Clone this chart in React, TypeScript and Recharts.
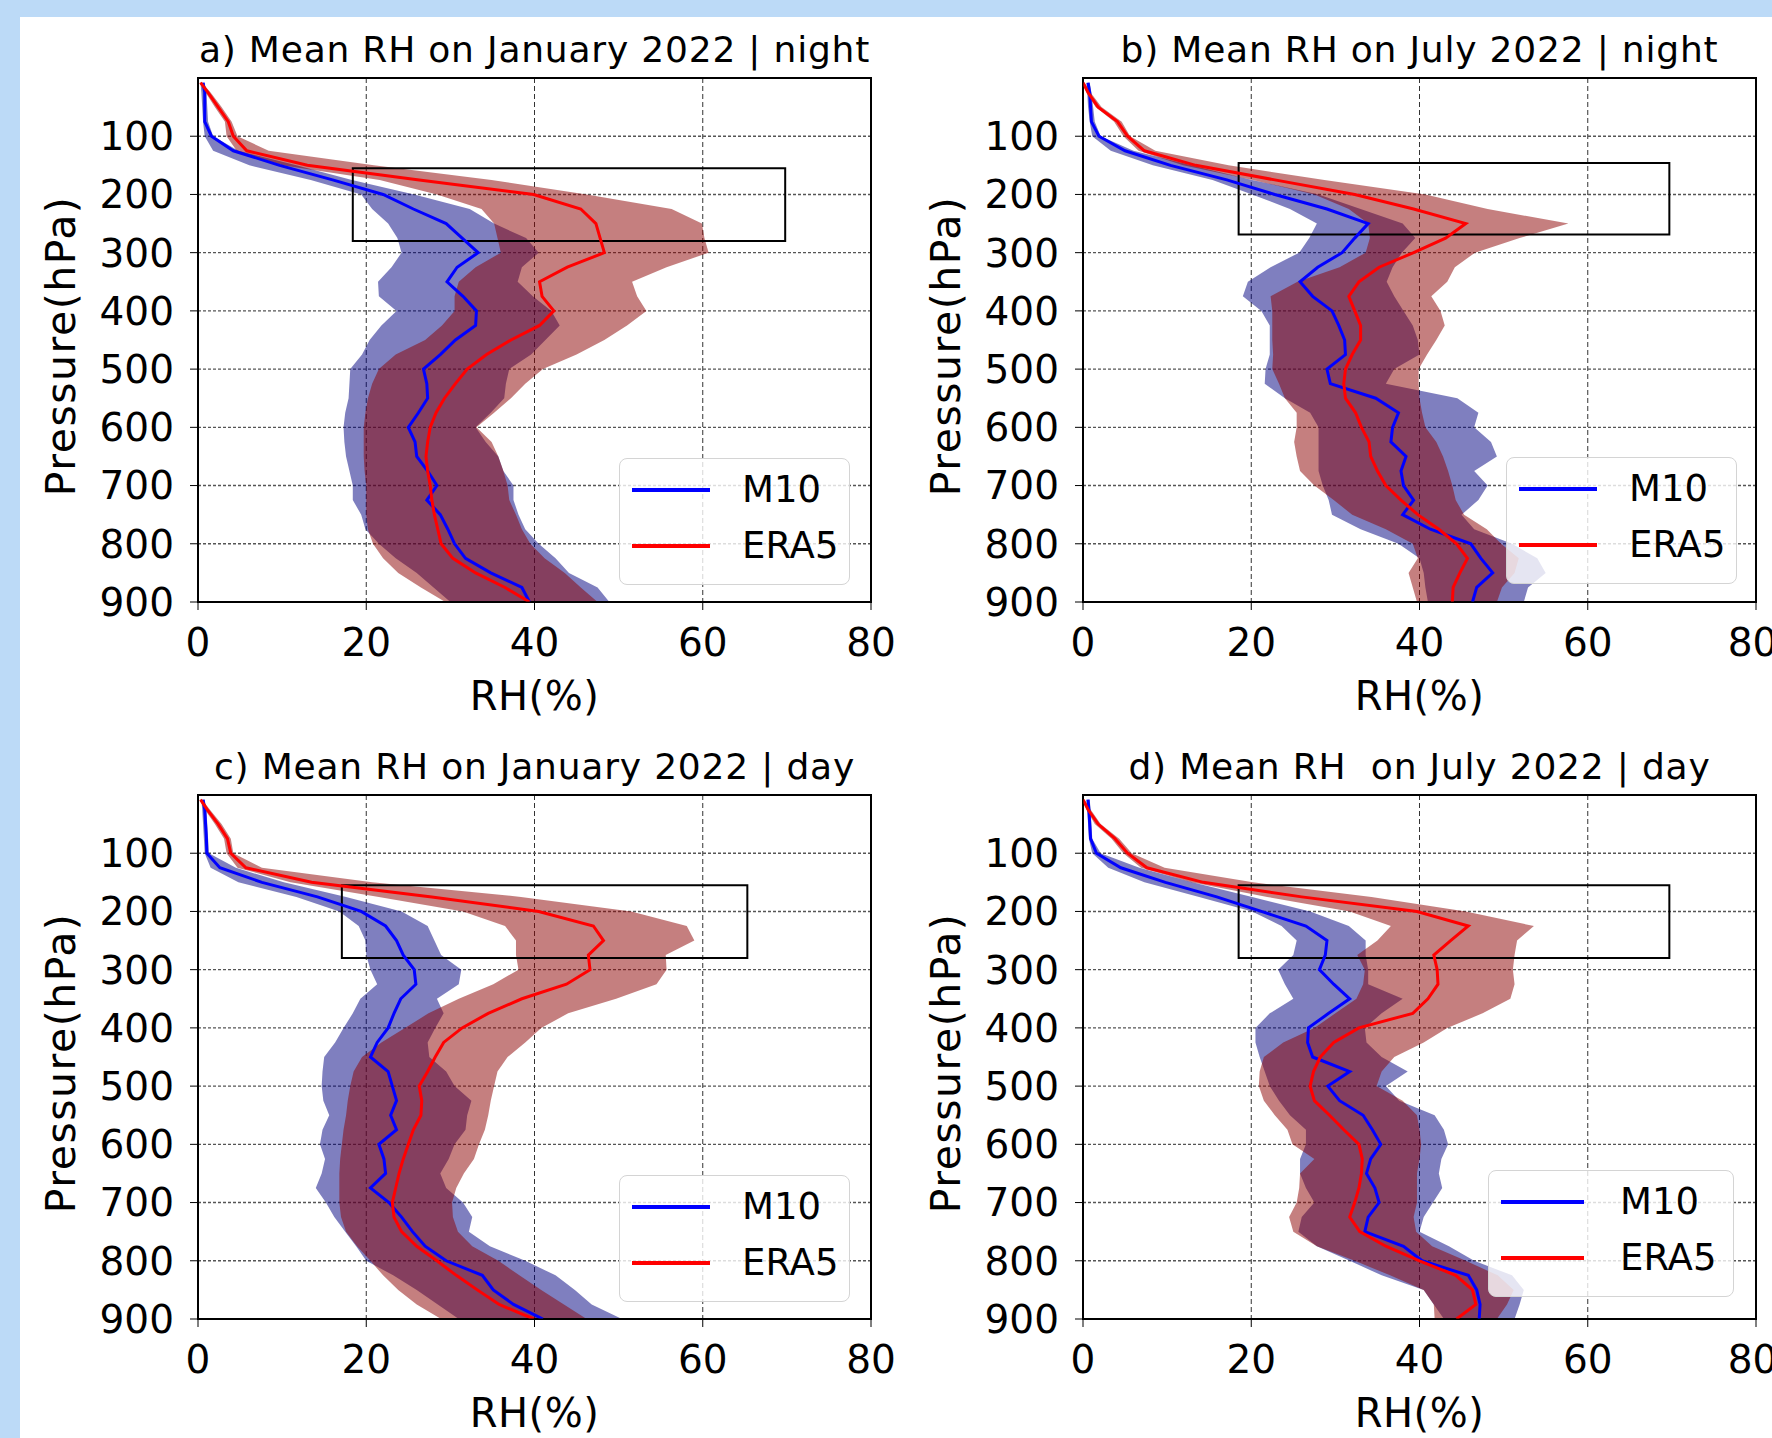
import React from "react";
import {
  ComposedChart,
  Area,
  Line,
  XAxis,
  YAxis,
  CartesianGrid,
  ReferenceArea,
  Legend
} from "recharts";

const FONT = "'DejaVu Sans', sans-serif";

const levels = [8, 25, 50, 75, 100, 125, 150, 175, 200, 225, 250, 275, 300, 325, 350, 375, 400, 425, 450, 475, 500, 525, 550, 575, 600, 625, 650, 675, 700, 725, 750, 775, 800, 825, 850, 875, 900];
const xTicks = [0, 20, 40, 60, 80];
const pTicks = [100, 200, 300, 400, 500, 600, 700, 800, 900];

// a) January night
const aM10 = [0.6, 0.8, 0.8, 0.8, 1.6, 4.2, 9.7, 16, 22, 25.6, 29.5, 31.4, 33.3, 30.8, 29.6, 31.5, 33.1, 33, 30.6, 28.8, 26.8, 27.2, 27.3, 26.2, 25, 25.8, 26, 27.3, 28.4, 27.2, 28.8, 29.7, 30.5, 31.8, 34.8, 38.5, 39.4];
const aM10Lo = [0.3, 0.4, 0.5, 0.6, 0.8, 1.8, 6.1, 13.4, 19.4, 20.7, 22.6, 23.7, 24.2, 23, 21.4, 21.5, 23.6, 21.8, 20.4, 19.5, 18.1, 18, 17.9, 17.5, 17.3, 17.4, 17.6, 18, 18.4, 18.4, 19.4, 19.9, 21.5, 23.5, 26, 28, 30];
const aM10Hi = [0.8, 1.0, 1.1, 1.2, 1.8, 4.8, 11.7, 18.3, 25.7, 32.3, 35.2, 39, 40.5, 38.5, 38, 39.8, 42, 43, 41.3, 39.6, 37, 36.6, 36.4, 34.8, 33, 34.2, 35.7, 36.3, 37.5, 37.5, 38.1, 38.9, 40.5, 42.5, 44.1, 47.5, 48.9];
const aEra = [0.3, 1.2, 2.4, 3.6, 4.2, 5.8, 13, 26.3, 39.9, 45.5, 47.3, 47.8, 48.3, 43.9, 40.6, 40.9, 42.3, 40.6, 37.2, 34.3, 32, 30.6, 29.3, 28.3, 27.6, 27.3, 27.1, 27.3, 27.6, 27.8, 28.1, 28.5, 28.9, 30.3, 33, 36.5, 39.4];
const aEraLo = [0.2, 0.9, 2.0, 3.2, 3.4, 4.6, 10, 21.6, 28.4, 33.7, 35.2, 35.6, 36, 33, 31, 30.5, 30.5, 29, 27, 23.5, 21.5, 20.7, 20.2, 19.9, 19.7, 19.7, 19.7, 19.8, 20, 20, 20, 20.2, 20.8, 22, 23.8, 26.5, 29.4];
const aEraHi = [0.5, 1.5, 2.8, 4, 4.7, 8.4, 20.9, 34.9, 46.2, 56.3, 59.9, 60.2, 60.7, 55.7, 51.6, 52.2, 53.3, 51, 48.3, 45, 41, 38.9, 37.2, 35.2, 33.1, 34.9, 35.7, 36.3, 36.8, 37, 37.8, 38.5, 39.5, 41.2, 43.6, 45.5, 47.5];

// b) July night
const bM10 = [0.6, 0.8, 0.9, 1.0, 1.9, 5, 10.4, 17.1, 22.8, 29, 33.9, 32.3, 30.8, 27.9, 25.8, 27.3, 29.6, 30.4, 31.1, 31.2, 29, 29.4, 34.8, 37.5, 36.8, 36.6, 38.4, 37.8, 38.1, 39.3, 38, 41.3, 46.1, 47.3, 48.7, 46.8, 46.3];
const bM10Lo = [0.4, 0.5, 0.6, 0.8, 1.1, 3.3, 8.3, 15.4, 20.1, 24.6, 27.8, 26.9, 25.7, 22.3, 19.6, 19, 21.2, 22.2, 22.2, 22.2, 21.7, 21.6, 24, 27, 28, 28, 28, 28, 28.5, 29.2, 29.6, 33, 37.5, 40, 40.5, 40.7, 41];
const bM10Hi = [0.8, 1.0, 1.2, 1.4, 2.1, 6, 12.9, 20.1, 28, 33, 38, 39.5, 37.9, 36.8, 36.1, 37, 38.1, 39.2, 39.8, 40, 37, 36, 44.5, 47, 46.5, 48.5, 49.2, 46.5, 48.1, 47, 45, 46.5, 51, 54, 55, 52.9, 52.4];
const bEra = [0, 0.6, 1.8, 4.1, 5.3, 7.3, 13.4, 22.8, 32.3, 39.3, 45.5, 43.1, 39.3, 35.2, 32.8, 31.6, 32.3, 33, 33, 32, 31.2, 31, 31.2, 32.4, 33.1, 34, 34.2, 35, 36, 37.8, 39.8, 42.3, 44.4, 45.7, 44.8, 44, 43.9];
const bEraLo = [0, 0.4, 1.5, 3.7, 4.8, 6.6, 11.9, 20.2, 27.5, 31.6, 33.9, 34.1, 33.6, 30.5, 25.5, 22.3, 22.5, 22.5, 22.5, 22.6, 22.5, 23.3, 24, 25.4, 25.4, 25.1, 25.4, 25.8, 27.5, 29.8, 32, 36, 39.2, 39.8, 38.7, 39.2, 39.7];
const bEraHi = [0.2, 0.9, 2.2, 4.6, 5.6, 8.6, 17.3, 28.7, 40.7, 48.1, 57.7, 51.9, 46.6, 44.2, 43.3, 41.4, 42.5, 43, 42, 40.9, 39.9, 39.9, 40, 40.3, 40.7, 42, 42.8, 43.4, 43.9, 44.3, 45.3, 48, 49.7, 51.8, 51.3, 49.8, 49.2];

// c) January day
const cM10 = [0.6, 0.8, 0.9, 1.0, 1.05, 2.6, 7.6, 14.2, 19.4, 22.3, 23.6, 24.4, 25.7, 25.9, 24.1, 23.3, 22.6, 21.3, 20.5, 22.6, 23.1, 23.6, 22.9, 23.6, 21.5, 22.1, 22.3, 20.5, 22.7, 24.2, 25.5, 27, 29.5, 33.8, 35.1, 37.5, 41];
const cM10Lo = [0.4, 0.5, 0.6, 0.7, 0.8, 1.5, 4.8, 11.7, 16.8, 19.1, 19.9, 20, 20.5, 21.3, 19.3, 18.4, 17.3, 16.3, 15, 14.8, 14.7, 14.9, 15.6, 14.8, 14.5, 15.1, 14.7, 14, 15.2, 16.2, 17.5, 18.8, 20, 23.2, 26, 28.5, 31];
const cM10Hi = [0.8, 1.0, 1.1, 1.2, 1.3, 4.5, 10.2, 17.6, 24.2, 27.3, 28.1, 28.9, 31.3, 31, 28.4, 29.2, 28.2, 27.3, 27.5, 29.5, 30.5, 32.5, 32, 31.8, 30.5, 29.8, 28.8, 29.5, 31.5, 32.6, 32.2, 34.7, 38.9, 42.5, 44.8, 46.8, 50.4];
const cEra = [0.3, 1.1, 2.4, 3.5, 3.9, 5.7, 13.5, 27.8, 40.5, 47, 48.2, 46.4, 46.6, 43.8, 38.5, 34.5, 31.4, 29.2, 28.2, 27.3, 26.3, 26.6, 26.5, 25.6, 25, 24.4, 23.9, 23.5, 23.1, 23.3, 24.2, 26, 28.4, 30.7, 33.2, 35.8, 39.9];
const cEraLo = [0.2, 0.8, 2.0, 3.1, 3.4, 4.7, 11, 21.5, 31.5, 36.5, 37.8, 37.8, 38.1, 35.1, 31, 27.4, 24.6, 21.8, 19.5, 18.5, 18.1, 17.8, 17.6, 17.3, 17.1, 16.9, 16.8, 16.8, 16.8, 17, 17.6, 18.9, 20.5, 22, 23.8, 26, 28.9];
const cEraHi = [0.5, 1.4, 2.8, 3.9, 4.2, 7.6, 20.7, 38.4, 51.5, 58.1, 59, 55.6, 55.7, 54.5, 49.7, 44, 40.8, 38.9, 36.8, 35.6, 35.2, 34.8, 34.5, 34.1, 33.4, 32.8, 31.6, 30.7, 30.2, 30.3, 30.9, 32.6, 35.7, 38.2, 40.8, 43.5, 46.2];

// d) July day
const dM10 = [0.6, 0.7, 0.8, 0.9, 1.6, 4.5, 9.8, 15.9, 21.2, 26.5, 29, 28.8, 28.1, 29.8, 31.7, 29.2, 26.8, 26.7, 27.3, 31.7, 29.1, 30.5, 33.3, 34.4, 35.4, 34.2, 33.7, 34.7, 35.2, 33.9, 33.5, 38.1, 40.3, 45.8, 46.8, 47.2, 47.1];
const dM10Lo = [0.4, 0.5, 0.6, 0.7, 1.1, 3, 7.3, 13.8, 20.1, 23.6, 25.4, 25, 23.2, 24, 25, 22.2, 20.5, 20.5, 21, 21.6, 22.2, 23.3, 24.6, 26.5, 26.5, 25.8, 25.8, 26.5, 27.5, 26, 25.6, 27.8, 31.7, 35.5, 40.5, 41.7, 42.9];
const dM10Hi = [0.8, 0.9, 1.0, 1.1, 2.1, 6.7, 13, 20.1, 27, 31.6, 33.6, 33.6, 33.9, 33.9, 38, 35.5, 33.5, 33.7, 35.5, 38.6, 36, 37.6, 41.8, 42.9, 43.4, 42.6, 42.3, 42.7, 41.6, 40.5, 40, 43.5, 46.5, 51, 52.4, 51.9, 51.3];
const dEra = [0, 0.6, 1.8, 3.8, 5.3, 7.6, 14.3, 26, 39.7, 45.8, 43.7, 41.7, 42.1, 42.2, 41, 39.2, 32.8, 29.8, 28.2, 27.4, 27, 27.5, 29.3, 31, 32.8, 33.2, 33.1, 32.8, 32.3, 31.7, 32.9, 36, 40, 44.3, 46.3, 46.7, 44.4];
const dEraLo = [0, 0.4, 1.4, 3.4, 4.8, 6.9, 12.9, 21.9, 31.7, 36.6, 35, 32.6, 33.5, 33.3, 32.5, 30, 27.5, 23.8, 21.5, 21, 20.9, 21.5, 22.8, 24.3, 24.9, 27.5, 25.8, 25.7, 25.4, 24.5, 25, 27.8, 32.3, 36.5, 40.5, 41.7, 41.8];
const dEraHi = [0.2, 0.9, 2.1, 4.3, 5.8, 9.7, 20.2, 34.3, 45.5, 53.6, 51.6, 51.3, 51.1, 51.3, 50.8, 47.5, 43.3, 40.5, 37, 35.5, 34.9, 38, 39.7, 40, 40.2, 40, 39.7, 39.7, 39.7, 39.3, 39.6, 41.5, 45.5, 49.3, 51.2, 50.4, 49.2];

// highlighted boxes: [rh from, rh to, p from, p to]
const boxA = [18.4, 69.8, 155, 280];
const boxB = [18.5, 69.7, 146, 269];
const boxC = [17.1, 65.3, 155, 280];
const boxD = [18.5, 69.7, 155, 280];

const titles = [
  "a) Mean RH on January 2022 | night",
  "b) Mean RH on July 2022 | night",
  "c) Mean RH on January 2022 | day",
  "d) Mean RH  on July 2022 | day"
];

const legendOrder = ["m10", "era"];

function buildRows(m, mLo, mHi, e, eLo, eHi) {
  return levels.map((p, i) => ({
    p,
    m10: m[i],
    m10Band: [mLo[i], mHi[i]],
    era: e[i],
    eraBand: [eLo[i], eHi[i]]
  }));
}

// chart box layout (same plot placement for every panel)
const H = 720;
const PL = 198; // plot left inside chart
const PT = 78; // plot top inside chart
const PW = 673;
const PH = 524;
const YW = 100;
const XH = 50;

const panels = [
  { left: 0, top: 0, w: 940, rows: buildRows(aM10, aM10Lo, aM10Hi, aEra, aEraLo, aEraHi), box: boxA, lg: { x: 619, y: 458, w: 231, line: 78, gap: 32 } },
  { left: 885, top: 0, w: 887, rows: buildRows(bM10, bM10Lo, bM10Hi, bEra, bEraLo, bEraHi), box: boxB, lg: { x: 621, y: 457, w: 231, line: 78, gap: 32 } },
  { left: 0, top: 717, w: 940, rows: buildRows(cM10, cM10Lo, cM10Hi, cEra, cEraLo, cEraHi), box: boxC, lg: { x: 619, y: 458, w: 231, line: 78, gap: 32 } },
  { left: 885, top: 717, w: 887, rows: buildRows(dM10, dM10Lo, dM10Hi, dEra, dEraLo, dEraHi), box: boxD, lg: { x: 603, y: 453, w: 246, line: 83, gap: 36 } }
];

function LegendBox({ payload, w, line, gap }) {
  const items = (payload || [])
    .filter((it) => legendOrder.includes(it.dataKey))
    .sort((p, q) => legendOrder.indexOf(p.dataKey) - legendOrder.indexOf(q.dataKey));
  return (
    <div
      style={{
        width: w,
        height: 127,
        boxSizing: "border-box",
        border: "1.5px solid #d4d4d4",
        borderRadius: 8,
        background: "rgba(255,255,255,0.8)",
        position: "relative",
        fontFamily: FONT
      }}
    >
      {items.map((it, i) => (
        <div
          key={it.value}
          style={{ position: "absolute", left: 0, top: 6 + i * 56, height: 50, display: "flex", alignItems: "center" }}
        >
          <div style={{ marginLeft: 12, width: line, height: 4, background: it.color }} />
          <span style={{ marginLeft: gap, fontSize: 37, color: "#000", lineHeight: "50px" }}>{it.value}</span>
        </div>
      ))}
    </div>
  );
}

function Panel({ cfg }) {
  const { rows, box, lg, w } = cfg;
  const tick = { fontSize: 39, fill: "#000", fontFamily: FONT };
  return (
    <div style={{ position: "absolute", left: cfg.left, top: cfg.top, width: w, height: H }}>
      <ComposedChart
        width={w}
        height={H}
        data={rows}
        layout="vertical"
        margin={{ top: PT, right: w - PL - PW, bottom: H - PT - PH - XH, left: PL - YW }}
      >
        <XAxis
          type="number"
          domain={[0, 80]}
          ticks={xTicks}
          allowDataOverflow
          height={XH}
          tick={tick}
          tickSize={8}
          tickMargin={18}
          stroke="#000"
          tickLine={{ stroke: "#000" }}
        />
        <YAxis
          type="number"
          dataKey="p"
          domain={[0, 900]}
          ticks={pTicks}
          allowDataOverflow
          width={YW}
          tick={tick}
          tickSize={8}
          tickMargin={16}
          stroke="#000"
          tickLine={{ stroke: "#000" }}
        />
        <Area
          dataKey="m10Band"
          type="linear"
          fill="#000080"
          fillOpacity={0.5}
          stroke="none"
          legendType="none"
          isAnimationActive={false}
        />
        <Area
          dataKey="eraBand"
          type="linear"
          fill="#8b0000"
          fillOpacity={0.5}
          stroke="none"
          legendType="none"
          isAnimationActive={false}
        />
        <CartesianGrid horizontal={false} stroke="#333" strokeDasharray="5 3" strokeWidth={1} />
        <CartesianGrid vertical={false} stroke="#555" strokeDasharray="3 2" strokeWidth={1.4} />
        <Line dataKey="m10" name="M10" type="linear" stroke="#0000ff" strokeWidth={3} dot={false} activeDot={false} isAnimationActive={false} />
        <Line dataKey="era" name="ERA5" type="linear" stroke="#ff0000" strokeWidth={3} dot={false} activeDot={false} isAnimationActive={false} />
        <ReferenceArea x1={box[0]} x2={box[1]} y1={box[2]} y2={box[3]} fill="none" stroke="#000" strokeWidth={2} fillOpacity={0} />
        <ReferenceArea x1={0} x2={80} y1={0} y2={900} fill="none" stroke="#000" strokeWidth={2} fillOpacity={0} />
        <Legend
          layout="vertical"
          align="center"
          verticalAlign="middle"
          wrapperStyle={{ left: lg.x, top: lg.y, width: lg.w, height: 127 }}
          content={(props) => <LegendBox payload={props.payload} w={lg.w} line={lg.line} gap={lg.gap} />}
        />
      </ComposedChart>
    </div>
  );
}

export default function App() {
  return (
    <div style={{ position: "absolute", left: 0, top: 0, width: 1772, height: 1438, background: "#fff", overflow: "hidden", fontFamily: FONT }}>
      <div style={{ position: "absolute", left: 0, top: 0, width: 1772, height: 17, background: "#bcdaf7" }} />
      <div style={{ position: "absolute", left: 0, top: 0, width: 20, height: 1438, background: "#bcdaf7" }} />
      {panels.map((cfg, i) => (
        <Panel key={i} cfg={cfg} />
      ))}
      <svg width={1772} height={1438} style={{ position: "absolute", left: 0, top: 0, pointerEvents: "none" }}>
        {panels.map((cfg, i) => {
          const cx = cfg.left + PL + PW / 2;
          const top = cfg.top + PT;
          const yc = top + 268;
          return (
            <g key={i} fontFamily={FONT} fill="#000">
              <text x={cx} y={top - 16} fontSize={36} textAnchor="middle" letterSpacing={0.8} style={{ whiteSpace: "pre" }}>
                {titles[i]}
              </text>
              <text x={cx} y={top + PH + 108} fontSize={40} textAnchor="middle" letterSpacing={0.5}>
                RH(%)
              </text>
              <text x={cfg.left + 75} y={yc} fontSize={41} textAnchor="middle" letterSpacing={1.5} transform={`rotate(-90 ${cfg.left + 75} ${yc})`}>
                Pressure(hPa)
              </text>
            </g>
          );
        })}
      </svg>
    </div>
  );
}
